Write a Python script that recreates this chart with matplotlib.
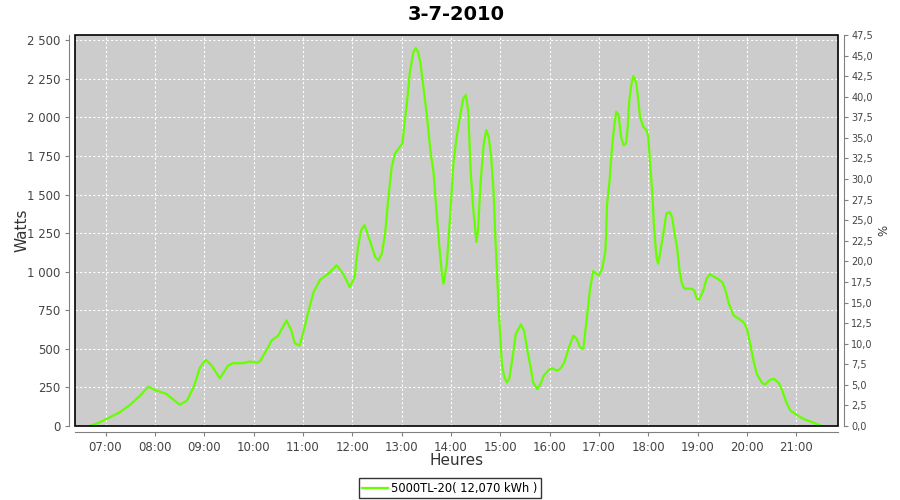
import matplotlib
matplotlib.use("Agg")
from matplotlib import pyplot as plt
from matplotlib.patches import Rectangle
from matplotlib.ticker import FuncFormatter, MultipleLocator

title = "3-7-2010"
series_name = "5000TL-20( 12,070 kWh )"

times = [
    "06:41", "06:53", "07:05", "07:17", "07:30", "07:42", "07:52", "08:02",
    "08:14", "08:24", "08:30", "08:39", "08:47", "08:55", "09:02", "09:09",
    "09:19", "09:29", "09:35", "09:47", "09:56", "10:04", "10:08", "10:16",
    "10:22", "10:30", "10:40", "10:46", "10:50", "10:56", "11:00", "11:07",
    "11:13", "11:21", "11:31", "11:41", "11:49", "11:57", "12:03", "12:07",
    "12:11", "12:15", "12:22", "12:28", "12:32", "12:36", "12:40", "12:44",
    "12:48", "12:52", "12:58", "13:01", "13:04", "13:06", "13:10", "13:14",
    "13:17", "13:20", "13:23", "13:27", "13:31", "13:35", "13:39", "13:43",
    "13:46", "13:49", "13:51", "13:55", "13:59", "14:03", "14:07", "14:11",
    "14:15", "14:18", "14:21", "14:24", "14:27", "14:31", "14:33", "14:36",
    "14:40", "14:43", "14:46", "14:49", "14:52", "14:54", "14:56", "14:58",
    "15:02", "15:05", "15:08", "15:11", "15:15", "15:19", "15:25", "15:29",
    "15:33", "15:37", "15:40", "15:45", "15:49", "15:53", "15:59", "16:03",
    "16:09", "16:13", "16:18", "16:23", "16:29", "16:33", "16:37", "16:41",
    "16:45", "16:49", "16:53", "17:00", "17:04", "17:08", "17:10", "17:13",
    "17:16", "17:19", "17:21", "17:24", "17:27", "17:30", "17:33", "17:35",
    "17:37", "17:40", "17:42", "17:45", "17:47", "17:50", "17:54", "17:58",
    "18:00", "18:02", "18:05", "18:07", "18:10", "18:12", "18:15", "18:19",
    "18:22", "18:26", "18:29", "18:32", "18:35", "18:38", "18:41", "18:44",
    "18:52", "18:56", "18:59", "19:02", "19:07", "19:11", "19:15", "19:24",
    "19:30", "19:34", "19:38", "19:44", "19:50", "19:56", "20:00", "20:04",
    "20:08", "20:12", "20:18", "20:22", "20:28", "20:33", "20:39", "20:43",
    "20:48", "20:53", "21:01", "21:09", "21:17", "21:25", "21:31",
]
watts = [
    0, 24, 56, 88, 138, 197, 255, 229,
    208, 164, 138, 164, 251, 381, 429, 392,
    309, 392, 407, 407, 418, 409, 420, 494,
    554, 586, 684, 619, 537, 521, 597, 749,
    868, 948, 987, 1041, 987, 900, 965, 1160,
    1273, 1301, 1192, 1095, 1073, 1117, 1247, 1484,
    1679, 1766, 1809, 1831, 1983, 2069, 2286, 2416,
    2448, 2426, 2351, 2177, 2004, 1788, 1636, 1355,
    1160, 987, 922, 1052, 1355, 1701, 1874, 2004,
    2123, 2145, 2048, 1658, 1420, 1192, 1268, 1572,
    1831, 1918, 1874, 1744, 1507, 1225, 1009, 770,
    403, 316, 283, 305, 445, 597, 658, 619,
    489, 381, 283, 240, 273, 327, 364, 374,
    359, 370, 413, 500, 586, 565, 510, 500,
    684, 879, 1004, 976, 1020, 1138, 1442, 1593,
    1809, 1961, 2037, 2015, 1874, 1820, 1831, 1939,
    2113, 2231, 2268, 2231, 2156, 2004, 1939, 1918,
    1874, 1723, 1507, 1290, 1095, 1052, 1138, 1268,
    1377, 1387, 1355, 1247, 1160, 1009, 922, 890,
    890, 879, 825, 818, 879, 955, 983, 955,
    933, 879, 792, 716, 695, 673, 630, 533,
    424, 338, 283, 268, 299, 305, 277, 229,
    153, 99, 71, 45, 30, 13, 0,
]
hour_ticks = list(range(7, 22))
pct_ticks = [i * 2.5 for i in range(20)]


def to_hours(s):
    h, m = s.split(":")
    return int(h) + int(m) / 60


def space_thousands(v, pos):
    return f"{int(round(v)):,}".replace(",", " ")


hours = [to_hours(t) for t in times]

plt.rcParams["font.family"] = "DejaVu Sans"
fig = plt.figure(figsize=(9, 5), dpi=100)
ax = fig.add_axes([0.0833, 0.148, 0.848, 0.782])
ax.set_facecolor("#cccccc")

ax.plot(hours, watts, color="#66ff00", linewidth=1.6, label=series_name, zorder=3)

ax.set_xlim(6.38, 21.85)
ax.set_ylim(0, 2534)
ax.set_xticks(hour_ticks)
ax.set_xticklabels([f"{h:02d}:00" for h in hour_ticks])
ax.yaxis.set_major_locator(MultipleLocator(250))
ax.yaxis.set_major_formatter(FuncFormatter(space_thousands))
ax.grid(True, color="white", linestyle=(0, (2, 2)), linewidth=0.8)
ax.set_axisbelow(True)

ax.set_xlabel("Heures", fontsize=11, color="#333333", va="center")
ax.xaxis.set_label_coords(0.5, -0.087)
ax.set_ylabel("Watts", fontsize=11, color="#333333", va="center")
ax.yaxis.set_label_coords(-0.069, 0.5)
ax.set_title(title, fontsize=14, fontweight="bold", pad=11)

ax2 = ax.twinx()
ax2.set_ylim(0, 47.5)
ax2.set_yticks(pct_ticks)
ax2.yaxis.set_major_formatter(FuncFormatter(lambda v, p: f"{v:.1f}".replace(".", ",")))
ax2.set_ylabel("%", fontsize=8.5, color="#333333", va="center")
ax2.yaxis.set_label_coords(1.06, 0.5)

for a in (ax, ax2):
    for side in ("left", "bottom", "right"):
        a.spines[side].set_position(("outward", 4))
        a.spines[side].set_color("#808080")
    a.spines["top"].set_visible(False)
    a.tick_params(colors="#808080", labelcolor="#444444", length=3, width=0.8)
ax.spines["right"].set_visible(False)
ax2.spines["left"].set_visible(False)
ax2.spines["bottom"].set_visible(False)
ax.tick_params(labelsize=8.5)
ax2.tick_params(labelsize=7, pad=2.5)

ax.add_patch(Rectangle((0, 0), 1, 1, transform=ax.transAxes, fill=False,
                       edgecolor="black", linewidth=1.2, clip_on=False, zorder=5))

leg = fig.legend(loc="lower center", bbox_to_anchor=(0.5, 0.0), fontsize=8.3,
                 frameon=True, fancybox=False, handlelength=2.2,
                 borderpad=0.3, handletextpad=0.3, borderaxespad=0.15)
leg.get_frame().set_edgecolor("black")
leg.get_frame().set_linewidth(1.0)

fig.savefig("out.png", dpi=100)
